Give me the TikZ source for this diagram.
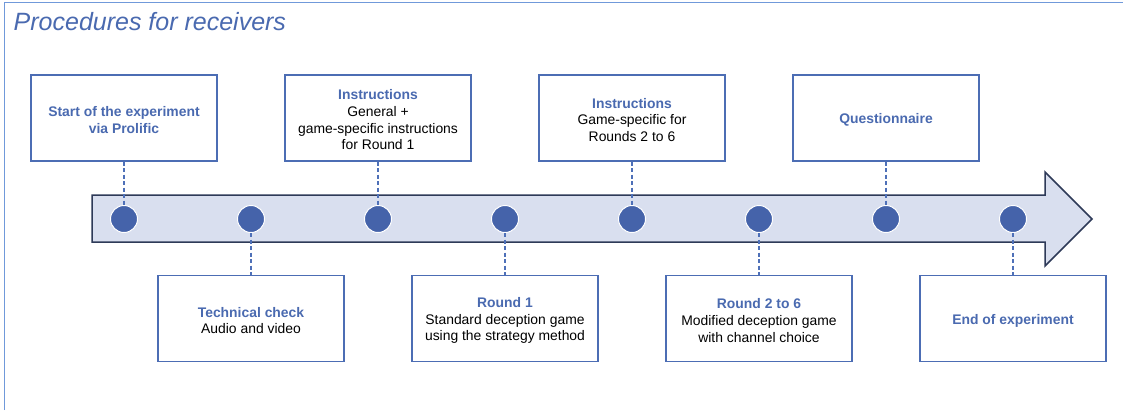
\documentclass[tikz,border=0pt]{standalone}
\usepackage{fontspec}
\setmainfont{Liberation Sans}
\definecolor{framecol}{HTML}{7099DA}
\definecolor{titleblue}{HTML}{4A6AB0}
\definecolor{boxline}{HTML}{4C6DB4}
\definecolor{dotfill}{HTML}{4563AA}
\definecolor{arrowfill}{HTML}{D9DFEF}
\definecolor{arrowline}{HTML}{2E3A58}
\definecolor{dashcol}{HTML}{4E70B8}
\newcommand\mytopstrut{\rule{0pt}{14pt}}
\begin{document}
\begin{tikzpicture}[x=1pt,y=-1pt,
  stepbox/.style={draw=boxline, line width=1.1pt, fill=white, minimum width=186pt, minimum height=86pt,
    inner sep=0pt, align=center, font=\fontsize{13.9}{16.7}\selectfont},
  dot/.style={circle, fill=dotfill, draw=white, line width=1pt, minimum size=27pt, inner sep=0pt},
  link/.style={draw=dashcol, line width=1.1pt, dash pattern=on 4pt off 2.5pt}]
\useasboundingbox (0,0) rectangle (1123,410);
\fill[white] (0,0) rectangle (1123,410);
% frame
\draw[framecol, line width=1.8pt] (4.5,410) -- (4.5,2.5) -- (1123,2.5);
\node[anchor=base west, text=titleblue, font=\fontsize{25}{29}\selectfont\itshape, inner sep=0pt] (title) at (13.5,30) {Procedures for receivers};
% arrow
\draw[fill=arrowfill, draw=arrowline, line width=1.5pt, line join=miter]
  (92,195) -- (1045,195) -- (1045,172) -- (1092,219) -- (1045,266) -- (1045,242) -- (92,242) -- cycle;
% dots
\foreach \i in {0,...,7} {
  \node[dot] (d\i) at (124+127*\i,219) {};
}
% top boxes
\node[stepbox] (b0) at (124,118) {\mytopstrut{\bfseries\color{titleblue}Start of the experiment}\\{\bfseries\color{titleblue}via Prolific}};
\node[stepbox] (b2) at (378,118) {\mytopstrut{\bfseries\color{titleblue}Instructions}\\General +\\game-specific instructions\\for Round 1};
\node[stepbox] (b4) at (632,118) {\mytopstrut{\bfseries\color{titleblue}Instructions}\\Game-specific for\\Rounds 2 to 6};
\node[stepbox] (b6) at (886,118) {\mytopstrut{\bfseries\color{titleblue}Questionnaire}};
% bottom boxes
\node[stepbox] (b1) at (251,318.5) {\mytopstrut{\bfseries\color{titleblue}Technical check}\\Audio and video};
\node[stepbox] (b3) at (505,318.5) {\mytopstrut{\bfseries\color{titleblue}Round 1}\\Standard deception game\\using the strategy method};
\node[stepbox] (b5) at (759,318.5) {\mytopstrut{\bfseries\color{titleblue}Round 2 to 6}\\Modified deception game\\with channel choice};
\node[stepbox] (b7) at (1013,318.5) {\mytopstrut{\bfseries\color{titleblue}End of experiment}};
% links
\foreach \i in {0,2,4,6} { \draw[link] (b\i.south) -- (d\i.north); }
\foreach \i in {1,3,5,7} { \draw[link] (d\i.south) -- (b\i.north); }
\end{tikzpicture}
\end{document}
